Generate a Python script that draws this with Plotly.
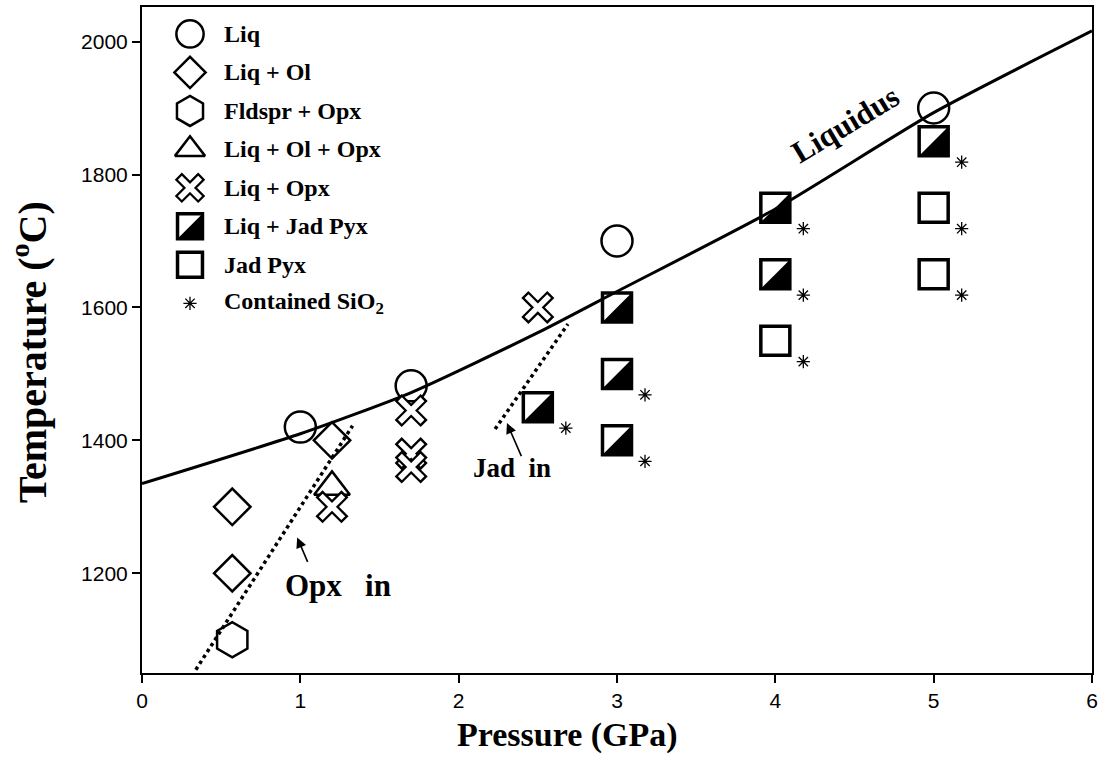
import plotly.graph_objects as go

# ---------------- data ----------------
liq_p = [1.0, 1.7, 3.0, 5.0]
liq_t = [1420, 1482, 1700, 1900]

liq_ol_p = [0.57, 0.57, 1.2]
liq_ol_t = [1300, 1200, 1400]

fld_opx_p = [0.57]
fld_opx_t = [1100]

liq_ol_opx_p = [1.2]
liq_ol_opx_t = [1330]

liq_opx_p = [1.2, 1.7, 1.7, 1.7, 2.5]
liq_opx_t = [1300, 1445, 1380, 1360, 1600]

liq_jad_p = [2.5, 3.0, 3.0, 3.0, 4.0, 4.0, 5.0]
liq_jad_t = [1450, 1600, 1500, 1400, 1750, 1650, 1850]

jad_p = [4.0, 5.0, 5.0]
jad_t = [1550, 1750, 1650]

sio2_p = [2.5, 3.0, 3.0, 4.0, 4.0, 4.0, 5.0, 5.0, 5.0]
sio2_t = [1450, 1500, 1400, 1750, 1650, 1550, 1850, 1750, 1650]

liquidus_p = [0.0, 1.0, 1.7, 2.5, 3.0, 4.0, 5.0, 6.0]
liquidus_t = [1335, 1410, 1472, 1562, 1624, 1748, 1893, 2016]

opx_in_p = [0.34, 1.33]
opx_in_t = [1055, 1422]

jad_in_p = [2.23, 2.69]
jad_in_t = [1417, 1575]

legend_labels = ["Liq", "Liq + Ol", "Fldspr + Opx", "Liq + Ol + Opx", "Liq + Opx",
                 "Liq + Jad Pyx", "Jad Pyx", "Contained SiO<sub>2</sub>"]

x_ticks = [0, 1, 2, 3, 4, 5, 6]
y_ticks = [1200, 1400, 1600, 1800, 2000]

x_title = "Pressure (GPa)"
y_title = "Temperature (<sup>o</sup>C)"

# ---------------- layout constants ----------------
W, H = 1107, 774
ML, MR, MT, MB = 142, 15, 5, 101
X_RANGE = [0, 6]
Y_RANGE = [1050, 2052]
PX_X = (W - ML - MR) / (X_RANGE[1] - X_RANGE[0])
PX_Y = (H - MT - MB) / (Y_RANGE[1] - Y_RANGE[0])
plot_w = W - ML - MR
plot_h = H - MT - MB

SERIF = "Liberation Serif, Times New Roman, serif"
SANS = "Liberation Sans, Arial, sans-serif"

# asterisk offset (pixels right / down from point)
AST_DX, AST_DY = 28, 21
sx = [p + AST_DX / PX_X for p in sio2_p]
sy = [t - AST_DY / PX_Y for t in sio2_t]

SQ = 29  # square marker size

fig = go.Figure()

fig.add_trace(go.Scatter(x=liquidus_p, y=liquidus_t, mode="lines",
                         line=dict(color="black", width=3, shape="spline", smoothing=0.6),
                         showlegend=False, hoverinfo="skip"))
fig.add_trace(go.Scatter(x=opx_in_p, y=opx_in_t, mode="lines",
                         line=dict(color="black", width=3.5, dash="dot"),
                         showlegend=False, hoverinfo="skip"))
fig.add_trace(go.Scatter(x=jad_in_p, y=jad_in_t, mode="lines",
                         line=dict(color="black", width=3.5, dash="dot"),
                         showlegend=False, hoverinfo="skip"))

styles = {
    "circle": [dict(symbol="circle-open", size=31, color="black", line=dict(width=2.5, color="black"))],
    "diamond": [dict(symbol="diamond-open", size=28, color="black", line=dict(width=2.5, color="black"))],
    "hexagon": [dict(symbol="hexagon-open", size=35, color="black", line=dict(width=2.5, color="black"))],
    "triangle": [dict(symbol="triangle-up-open", size=31, color="black", line=dict(width=2.5, color="black"))],
    "x": [dict(symbol="x-thin-open", size=26, color="black", line=dict(width=10, color="black")),
          dict(symbol="x-thin-open", size=22.5, color="white", line=dict(width=5.5, color="white"))],
    "square": [dict(symbol="square-open", size=SQ, color="black", line=dict(width=3.5, color="black"))],
    "ast": [dict(symbol="asterisk-open", size=11, color="black", line=dict(width=1.3, color="black"))],
}

series = [
    (liq_p, liq_t, "circle"),
    (liq_ol_p, liq_ol_t, "diamond"),
    (fld_opx_p, fld_opx_t, "hexagon"),
    (liq_ol_opx_p, liq_ol_opx_t, "triangle"),
    (liq_opx_p, liq_opx_t, "x"),
    (liq_jad_p, liq_jad_t, "square"),
    (jad_p, jad_t, "square"),
    (sx, sy, "ast"),
]
for xs, ys, st in series:
    if st == "x":
        # draw each cross as outline + white core so overlapping crosses look like the original
        for xi, yi in zip(xs, ys):
            for m in styles[st]:
                fig.add_trace(go.Scatter(x=[xi], y=[yi], mode="markers", marker=m,
                                         showlegend=False, hoverinfo="skip"))
    else:
        for m in styles[st]:
            fig.add_trace(go.Scatter(x=xs, y=ys, mode="markers", marker=m,
                                     showlegend=False, hoverinfo="skip"))

shapes = []
h = SQ / 2


def half_square(xa, ya, xref, yref, hh):
    return dict(type="path", xref=xref, yref=yref, xsizemode="pixel", ysizemode="pixel",
                xanchor=xa, yanchor=ya,
                path=f"M {-hh},{-hh} L {hh},{-hh} L {hh},{hh} Z",
                fillcolor="black", line=dict(width=0), layer="above")


for p, t in zip(liq_jad_p, liq_jad_t):
    shapes.append(half_square(p, t, "x", "y", h))

# ---------------- manual legend (on overlay axis in plot-fraction units) ----------------
LEG_X_PX = 190
LEG_TXT_PX = 222
LEG_Y0_PX = 32
LEG_DY_PX = 38.6
leg_x = (LEG_X_PX - ML) / plot_w
leg_tx = (LEG_TXT_PX - ML) / plot_w
leg_scale = {"circle": 0.88, "diamond": 0.86, "hexagon": 0.86, "triangle": 0.84, "x": 0.9,
             "square": 0.86, "ast": 1.0}
annotations = []
for i, (lab, (_, _, st)) in enumerate(zip(legend_labels, series)):
    ypx = LEG_Y0_PX + i * LEG_DY_PX
    yf = (H - MB - ypx) / plot_h
    for mm in styles[st]:
        m = dict(mm)
        m["size"] = mm["size"] * leg_scale[st]
        fig.add_trace(go.Scatter(x=[leg_x], y=[yf], mode="markers", marker=m, xaxis="x2", yaxis="y2",
                                 showlegend=False, hoverinfo="skip"))
    if i == 5:
        shapes.append(half_square(leg_x, yf, "x2", "y2", SQ * leg_scale["square"] / 2))
    annotations.append(dict(x=leg_tx, y=yf, xref="x2", yref="y2", text=f"<b>{lab}</b>",
                            showarrow=False, xanchor="left", yanchor="middle",
                            font=dict(family=SERIF, size=24, color="black")))

# ---------------- text annotations ----------------
annotations += [
    dict(x=4.44, y=1875, xref="x", yref="y", text="<b>Liquidus</b>", textangle=-31,
         showarrow=False, font=dict(family=SERIF, size=31, color="black")),
    dict(x=1.24, y=1182, xref="x", yref="y", text="<b>Opx&nbsp;&nbsp;&nbsp;in</b>",
         showarrow=False, font=dict(family=SERIF, size=31, color="black")),
    dict(x=2.336, y=1359, xref="x", yref="y", text="<b>Jad&nbsp;&nbsp;in</b>",
         showarrow=False, font=dict(family=SERIF, size=27, color="black")),
    dict(x=0.98, y=1254, xref="x", yref="y", ax=1.05, ay=1215, axref="x", ayref="y",
         text="", showarrow=True, arrowhead=2, arrowsize=1.3, arrowwidth=1.6, arrowcolor="black"),
    dict(x=2.305, y=1426, xref="x", yref="y", ax=2.40, ay=1374, axref="x", ayref="y",
         text="", showarrow=True, arrowhead=2, arrowsize=1.3, arrowwidth=1.6, arrowcolor="black"),
    # axis titles (placed as in the original, slightly off-centre)
    dict(x=(567 - ML) / plot_w, y=(H - MB - 735) / plot_h, xref="paper", yref="paper",
         text=f"<b>{x_title}</b>", showarrow=False, xanchor="center", yanchor="middle",
         font=dict(family=SERIF, size=34, color="black")),
    dict(x=(30 - ML) / plot_w, y=(H - MB - 351) / plot_h, xref="paper", yref="paper",
         text=f"<b>{y_title}</b>", textangle=-90, showarrow=False,
         xanchor="center", yanchor="middle",
         font=dict(family=SERIF, size=40, color="black")),
]

axis_common = dict(showline=True, linecolor="black", linewidth=2, mirror=True,
                   ticks="outside", ticklen=8, tickwidth=2, tickcolor="black",
                   showgrid=False, zeroline=False,
                   tickfont=dict(family=SANS, size=21, color="black"))

fig.update_layout(
    width=W, height=H, autosize=False,
    margin=dict(l=ML, r=MR, t=MT, b=MB),
    paper_bgcolor="white", plot_bgcolor="white",
    showlegend=False,
    xaxis=dict(range=X_RANGE, tickvals=x_ticks, **axis_common),
    yaxis=dict(range=Y_RANGE, tickvals=y_ticks, **axis_common),
    xaxis2=dict(overlaying="x", range=[0, 1], visible=False, fixedrange=True),
    yaxis2=dict(overlaying="y", range=[0, 1], visible=False, fixedrange=True),
    shapes=shapes,
    annotations=annotations,
)

fig.write_html("out.html")
